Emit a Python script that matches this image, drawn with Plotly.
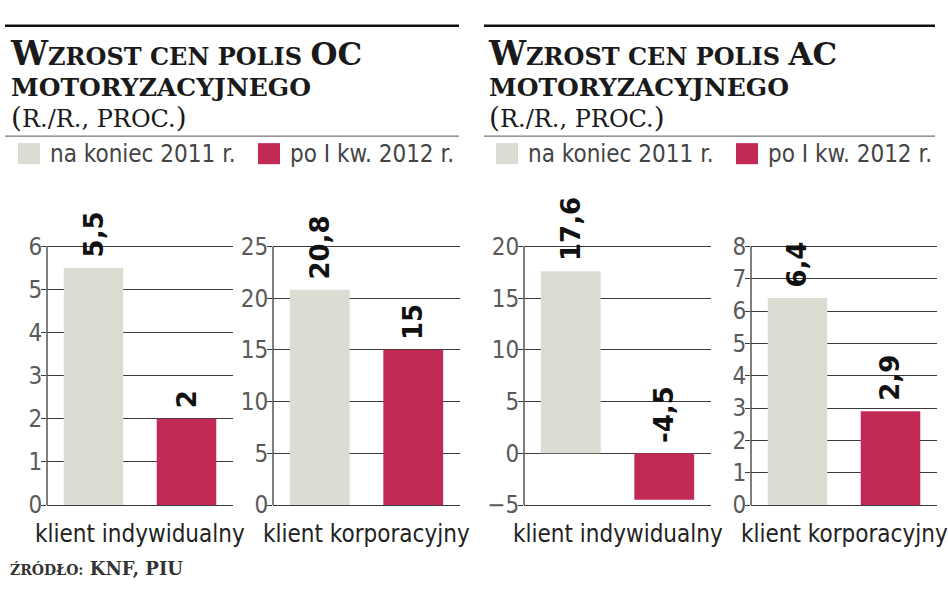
import plotly.graph_objects as go

# ---------------- data ----------------
categories = ["klient indywidualny", "klient korporacyjny"]
series_names = ["na koniec 2011 r.", "po I kw. 2012 r."]
oc_2011 = [5.5, 20.8]
oc_2012 = [2, 15]
ac_2011 = [17.6, 6.4]
ac_2012 = [-4.5, 2.9]
y_ranges = [[0, 6], [0, 25], [-5, 20], [0, 8]]
y_dticks = [1, 5, 5, 1]
source_text = "ŹRÓDŁO: KNF, PIU"

# ---------------- style ----------------
W, H = 948, 593
GREY = "#dcdcd2"
RED = "#c22a56"
SER_COLORS = [GREY, RED]
SANS = "Liberation Sans Narrow, DejaVu Sans Condensed, Roboto, sans-serif"
BOLDNUM = "DejaVu Sans, sans-serif"
SERIF = "DejaVu Serif, serif"

# vertical mapping of the captured page (measured): picture_y = 12.2 + 0.9588 * y
def dy(py):
    return (py - 12.2) / 0.9588

def fx(px):
    return px / W

def fy(py):
    return 1 - dy(py) / H

panel_x = [(47, 233), (273, 460), (524, 711), (751, 937)]
top_px, bot_px = dy(247), dy(505)
pad = 2.5

panels = [
    (oc_2011[0], oc_2012[0], categories[0]),
    (oc_2011[1], oc_2012[1], categories[1]),
    (ac_2011[0], ac_2012[0], categories[0]),
    (ac_2011[1], ac_2012[1], categories[1]),
]

fig = go.Figure()
annotations = []
shapes = []

def fmt(v):
    return ("%g" % v).replace(".", ",")

for i, (v1, v2, cat) in enumerate(panels):
    n = "" if i == 0 else str(i + 1)
    vals = [v1, v2]
    fig.add_trace(go.Bar(
        x=[0, 1], y=vals, width=0.64,
        marker=dict(color=SER_COLORS, line=dict(width=0)),
        xaxis="x" + n, yaxis="y" + n, showlegend=False,
        hoverinfo="skip",
    ))
    x0, x1 = panel_x[i]
    lo, hi = y_ranges[i]
    eps = (hi - lo) * pad / (bot_px - top_px)
    fig.layout["xaxis" + n] = dict(
        domain=[fx(x0), fx(x1)], range=[-0.5, 1.5], visible=False,
        anchor="y" + n, fixedrange=True,
    )
    fig.layout["yaxis" + n] = dict(
        domain=[1 - (bot_px + pad) / H, 1 - (top_px - pad) / H],
        range=[lo - eps, hi + eps],
        dtick=y_dticks[i], tick0=0, anchor="x" + n,
        showgrid=True, gridcolor="#3a3a3a", gridwidth=1.3,
        zeroline=False, showline=False,
        ticks="outside", ticklen=5, tickcolor="#3a3a3a", tickwidth=1.3,
        tickfont=dict(family=SANS, size=24, color="#5a5a5a"),
        ticklabelstandoff=-6,
    )
    shapes.append(dict(type="line", xref="x" + n + " domain", yref="y" + n,
                       x0=0, x1=0, y0=lo, y1=hi, line=dict(color="#3a3a3a", width=1.3)))
    for j, v in enumerate(vals):
        annotations.append(dict(
            x=j, y=max(v, 0), xref="x" + n, yref="y" + n,
            text="<b>" + fmt(v) + "</b>", textangle=-90, showarrow=False,
            xanchor="center", yanchor="bottom", yshift=8,
            font=dict(family=BOLDNUM, size=26, color="#111111"),
        ))
    annotations.append(dict(
        x=(x0 + x1) / 2 / W, y=fy(534), xref="paper", yref="paper",
        text=cat, showarrow=False, xanchor="center", yanchor="middle",
        font=dict(family=SANS, size=24, color="#222222"),
    ))

# ---------------- titles ----------------
titles = [("OC", 8), ("AC", 486)]
for code, tx in titles:
    annotations.append(dict(
        x=fx(tx), y=fy(33), xref="paper", yref="paper", xanchor="left", yanchor="top",
        align="left", showarrow=False,
        text=("<b><span style='font-size:33px'>W</span>ZROST CEN POLIS "
              "<span style='font-size:31px'>" + code + "</span></b><br>"
              "<b><span style='font-size:25px'>MOTORYZACYJNEGO</span></b><br>"
              "<span style='font-size:28px'>(</span>R./R., PROC.<span style='font-size:28px'>)</span>"),
        font=dict(family=SERIF, size=24, color="#1a1a1a"),
    ))

for (a, b) in [(5, 459), (484, 935)]:
    shapes.append(dict(type="line", xref="paper", yref="paper", x0=fx(a), x1=fx(b),
                       y0=fy(27), y1=fy(27), line=dict(color="#111111", width=2.5)))
    shapes.append(dict(type="line", xref="paper", yref="paper", x0=fx(a), x1=fx(b),
                       y0=fy(137), y1=fy(137), line=dict(color="#555555", width=1)))

legend_pos = [(18, 258), (496, 736)]
for (l1, l2) in legend_pos:
    for k, lx in enumerate([l1, l2]):
        shapes.append(dict(type="rect", xref="paper", yref="paper",
                           x0=fx(lx), x1=fx(lx + 22), y0=fy(165), y1=fy(144),
                           fillcolor=SER_COLORS[k], line=dict(width=0)))
        annotations.append(dict(
            x=fx(lx + 30), y=fy(155), xref="paper", yref="paper", xanchor="left", yanchor="middle",
            showarrow=False, text=series_names[k],
            font=dict(family=SANS, size=24, color="#444444"),
        ))

src_a, src_b = source_text.split(":")
annotations.append(dict(
    x=fx(8), y=fy(568), xref="paper", yref="paper", xanchor="left", yanchor="middle",
    showarrow=False,
    text="<b>" + src_a + ":<span style='font-size:18px'>" + src_b + "</span></b>",
    font=dict(family=SERIF, size=14, color="#333333"),
))

fig.update_layout(
    width=W, height=H, margin=dict(l=0, r=0, t=0, b=0),
    paper_bgcolor="white", plot_bgcolor="white",
    barmode="overlay", annotations=annotations, shapes=shapes,
    showlegend=False,
)

fig.write_html("out.html", config={"displayModeBar": False})
